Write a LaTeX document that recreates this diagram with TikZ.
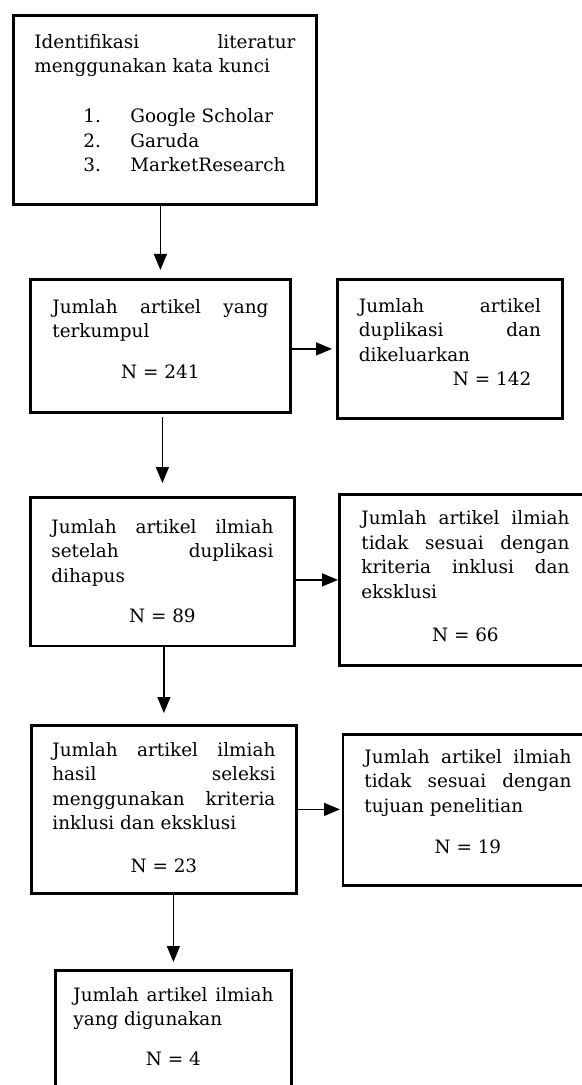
\documentclass[tikz,border=0pt]{standalone}
\usepackage{fontspec}
\setmainfont{DejaVu Serif}
\usepackage{tikz}
\usetikzlibrary{arrows.meta}

\begin{document}
\begin{tikzpicture}[
    x=0.5pt, y=-0.5pt,
    kotak/.style={rectangle, draw, line width=1.4pt,
                  inner ysep=0pt,
                  align=justify,
                  anchor=north west,
                  font=\fontsize{9.2}{12.25}\selectfont},
    panah/.style={-{Triangle[length=8pt,width=6.5pt]}, line width=0.65pt}
]
\useasboundingbox (0,0) rectangle (582,1085);
\clip (0,0) rectangle (582,1085);

\node[kotak, inner xsep=10.5pt, text width=130.5pt, text height=16.5pt, text depth=78pt] (ident) at (12,14)
  {Identifikasi literatur\linebreak menggunakan kata kunci\par
   \vspace{12.75pt}
   \hspace*{24.5pt}\makebox[23.5pt][l]{1.}Google Scholar\par
   \hspace*{24.5pt}\makebox[23.5pt][l]{2.}Garuda\par
   \hspace*{24.5pt}\makebox[23.5pt][l]{3.}MarketResearch\par};
\node[kotak, inner xsep=11pt, text width=108pt, text height=17pt, text depth=49.5pt] (kumpul) at (29,278)
  {Jumlah artikel yang\linebreak terkumpul\par
   \vspace{8.25pt}{\centering N = 241\par}};
\node[kotak, inner xsep=10.75pt, text width=91pt, text height=16.5pt, text depth=53pt] (dupl) at (336,278)
  {Jumlah artikel\linebreak duplikasi dan\linebreak dikeluarkan\par
   \hspace*{47pt}N = 142\par};
\node[kotak, inner xsep=10.5pt, text width=111pt, text height=18pt, text depth=56.25pt] (setelah) at (29,496)
  {Jumlah artikel ilmiah\linebreak setelah duplikasi\linebreak dihapus\par
   \vspace{7.75pt}{\centering N = 89\par}};
\node[kotak, inner xsep=11pt, text width=104pt, text height=15.25pt, text depth=70.25pt] (inklusi) at (338,493)
  {Jumlah artikel ilmiah\linebreak tidak sesuai dengan\linebreak kriteria inklusi dan\linebreak eksklusi\par
   \vspace{9.4pt}{\centering N = 66\par}};
\node[kotak, inner xsep=10.5pt, text width=111.5pt, text height=15.5pt, text depth=68.5pt] (seleksi) at (30,724)
  {Jumlah artikel ilmiah\linebreak hasil seleksi\linebreak menggunakan kriteria\linebreak inklusi dan eksklusi\par
   \vspace{9pt}{\centering N = 23\par}};
\node[kotak, inner xsep=10.75pt, text width=103.5pt, text height=14.5pt, text depth=61pt] (tujuan) at (341.5,733)
  {Jumlah artikel ilmiah\linebreak tidak sesuai dengan\linebreak tujuan penelitian\par
   \vspace{8.5pt}{\centering N = 19\par}};
\node[kotak, inner xsep=9pt, text width=100pt, text height=15.5pt, text depth=55pt] (guna) at (54,969)
  {Jumlah artikel ilmiah\linebreak yang digunakan\par
   \vspace{7.75pt}{\centering N = 4\par}};

\draw[panah, shorten >=4pt] (kumpul.north |- ident.south) -- (kumpul.north);
\draw[panah, shorten >=2pt] (kumpul.east |- dupl.west) -- (dupl.west);
\draw[panah, shorten <=1.5pt, shorten >=6.5pt] (setelah.north |- kumpul.south) -- (setelah.north);
\draw[panah] (setelah.east |- inklusi.west) -- (inklusi.west);
\draw[panah, shorten >=5.5pt] (seleksi.north |- setelah.south) -- (seleksi.north);
\draw[panah, shorten >=0.75pt] (seleksi.east) -- (seleksi.east -| tujuan.west);
\draw[panah, shorten >=3.5pt] (guna.north |- seleksi.south) -- (guna.north);
\end{tikzpicture}
\end{document}
